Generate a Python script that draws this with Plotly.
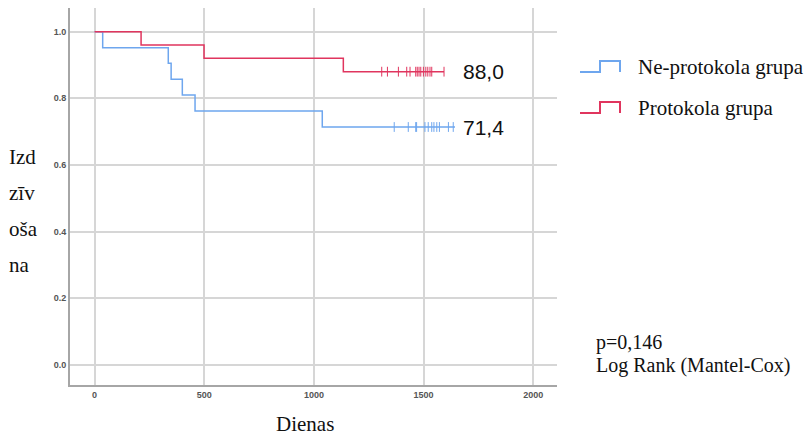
import plotly.graph_objects as go

# Kaplan-Meier step data
blue_name = "Ne-protokola grupa"
blue_t = [0, 37, 336, 349, 400, 458, 1038, 1643]
blue_s = [1.0, 0.952, 0.905, 0.857, 0.810, 0.762, 0.714, 0.714]
blue_cens = [1366, 1430, 1464, 1468, 1506, 1521, 1537, 1547, 1560, 1572, 1613, 1635]

red_name = "Protokola grupa"
red_t = [0, 212, 499, 1134, 1593]
red_s = [1.0, 0.96, 0.92, 0.88, 0.88]
red_cens = [1309, 1335, 1385, 1423, 1438, 1464, 1471, 1479, 1487, 1499, 1510, 1519, 1529, 1537, 1593]

blue_label = "71,4"
red_label = "88,0"

x_ticks = [0, 500, 1000, 1500, 2000]
y_ticks = [0.0, 0.2, 0.4, 0.6, 0.8, 1.0]

y_title_lines = ["Izd", "zīv", "oša", "na"]
x_title = "Dienas"
stat_lines = ["p=0,146", "Log Rank (Mantel-Cox)"]

BLUE = "#6ea6ee"
RED = "#e0355e"

L, R, T, B = 70, 557, 8, 385


def px(x):
    return (x - L) / (R - L)


def py(y):
    return (B - y) / (B - T)


def step_at(ts, ss, x):
    v = ss[0]
    for t, s in zip(ts, ss):
        if t <= x:
            v = s
    return v


fig = go.Figure()
for ts, ss, cens, col, nm in [(blue_t, blue_s, blue_cens, BLUE, blue_name),
                              (red_t, red_s, red_cens, RED, red_name)]:
    fig.add_trace(go.Scatter(x=ts, y=ss, mode="lines", line=dict(color=col, width=1.5, shape="hv"),
                             name=nm, showlegend=False, hoverinfo="skip"))
    fig.add_trace(go.Scatter(x=cens, y=[step_at(ts, ss, c) for c in cens], mode="markers",
                             marker=dict(symbol="line-ns", size=7, line=dict(color=col, width=1)),
                             showlegend=False, hoverinfo="skip"))

# End labels
for lab, yv in [(red_label, red_s[-1]), (blue_label, blue_s[-1])]:
    fig.add_annotation(x=1672, y=yv, text=lab, showarrow=False, xanchor="left", yanchor="middle",
                       font=dict(family="Liberation Sans", size=21, color="#111"))

serif = dict(family="Liberation Serif", size=21, color="#111")

# Legend (drawn manually)
for (yy, col, nm) in [(67, BLUE, blue_name), (108, RED, red_name)]:
    fig.add_shape(type="path", xref="paper", yref="paper",
                  path=f"M {px(580)} {py(yy+5)} L {px(600)} {py(yy+5)} L {px(600)} {py(yy-6)} L {px(620)} {py(yy-6)} L {px(620)} {py(yy+5)}",
                  line=dict(color=col, width=2))
    fig.add_annotation(xref="paper", yref="paper", x=px(636), y=py(yy), text=nm, showarrow=False,
                       xanchor="left", yanchor="middle", font=serif)

# Y-axis label (stacked lines)
for txt, yy in zip(y_title_lines, [157, 193, 229, 265]):
    fig.add_annotation(xref="paper", yref="paper", x=px(7), y=py(yy), text=txt,
                       showarrow=False, xanchor="left", yanchor="middle", font=serif)
# X-axis label
fig.add_annotation(xref="paper", yref="paper", x=px(305), y=py(424), text=x_title, showarrow=False,
                   xanchor="center", yanchor="middle", font=serif)
# p-value text
stat_font = dict(family="Liberation Serif", size=20, color="#111")
for txt, yy in zip(stat_lines, [342, 365]):
    fig.add_annotation(xref="paper", yref="paper", x=px(595), y=py(yy), text=txt,
                       showarrow=False, xanchor="left", yanchor="middle", font=stat_font,
                       borderpad=0)

tickfont = dict(family="Liberation Sans", size=9, color="#555", weight="bold")
fig.update_xaxes(range=[-112, 2108], tickvals=x_ticks, ticktext=[str(v) for v in x_ticks],
                 showgrid=True, gridcolor="#d6d6d6", gridwidth=1.5, zeroline=False,
                 showline=True, linecolor="#a6a6a6", linewidth=2, ticks="", tickfont=tickfont)
fig.update_yaxes(range=[-0.06, 1.071], tickvals=y_ticks, ticktext=[f"{v:.1f}" for v in y_ticks],
                 showgrid=True, gridcolor="#d6d6d6", gridwidth=1.5, zeroline=False,
                 showline=True, linecolor="#a6a6a6", linewidth=2, ticks="", tickfont=tickfont)

fig.update_layout(width=804, height=435, margin=dict(l=L, r=804 - R, t=T, b=435 - B),
                  plot_bgcolor="white", paper_bgcolor="white", showlegend=False)

fig.write_html("out.html")
